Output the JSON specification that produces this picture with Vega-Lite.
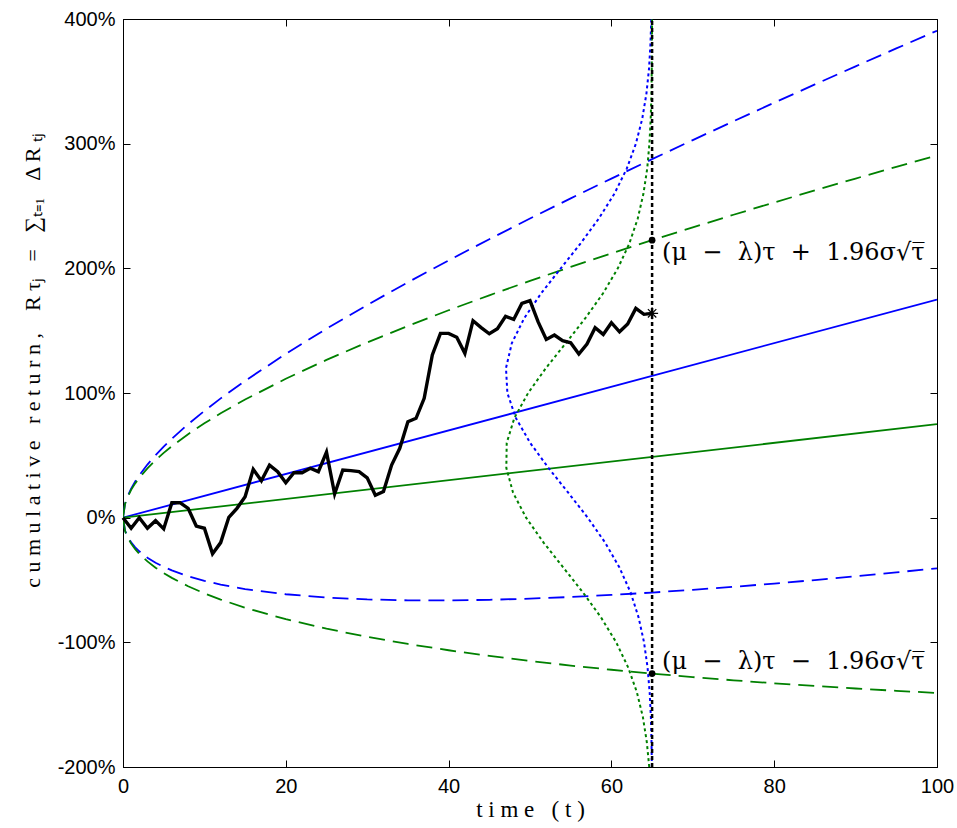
{
  "$schema": "https://vega.github.io/schema/vega-lite/v6.json",
  "width": 814,
  "height": 748,
  "autosize": "none",
  "padding": {"left": 123, "top": 19, "right": 20, "bottom": 61},
  "background": "white",
  "config": {
    "view": {"stroke": "black", "strokeWidth": 1},
    "axis": {
      "domainColor": "black", "tickColor": "black", "labelColor": "black", "titleColor": "black",
      "labelFont": "Liberation Sans", "labelFontSize": 20,
      "titleFont": "Liberation Serif", "titleFontSize": 22, "titleFontWeight": "normal",
      "grid": false, "labelFlush": false, "labelOverlap": false,
      "domainWidth": 1, "tickWidth": 1
    }
  },
  "datasets": {
    "walk": [
      {"t":0,"v":0},{"t":1,"v":-8.5},{"t":2,"v":0},{"t":3,"v":-8.5},{"t":4,"v":-2.4},{"t":5,"v":-9},
      {"t":6,"v":12},{"t":7,"v":12},{"t":8,"v":7.5},{"t":9,"v":-6.7},{"t":10,"v":-8.5},{"t":11,"v":-29},
      {"t":12,"v":-20},{"t":13,"v":0.3},{"t":14,"v":7.5},{"t":15,"v":16.8},{"t":16,"v":38.8},{"t":17,"v":29.6},
      {"t":18,"v":42.2},{"t":19,"v":36.9},{"t":20,"v":28},{"t":21,"v":36},{"t":22,"v":36},{"t":23,"v":39.6},
      {"t":24,"v":36.9},{"t":25,"v":52.6},{"t":26,"v":19},{"t":27,"v":38.2},{"t":28,"v":37.7},{"t":29,"v":36.9},
      {"t":30,"v":32},{"t":31,"v":18},{"t":32,"v":21},{"t":33,"v":42.2},{"t":34,"v":55.6},{"t":35,"v":77},
      {"t":36,"v":79.7},{"t":37,"v":95.7},{"t":38,"v":130.5},{"t":39,"v":147.8},{"t":40,"v":147.8},{"t":41,"v":144.7},
      {"t":42,"v":131.8},{"t":43,"v":158},{"t":44,"v":152.5},{"t":45,"v":147.5},{"t":46,"v":151.5},{"t":47,"v":161.5},
      {"t":48,"v":159},{"t":49,"v":171.8},{"t":50,"v":174},{"t":51,"v":157},{"t":52,"v":143},{"t":53,"v":146.5},
      {"t":54,"v":142},{"t":55,"v":140.3},{"t":56,"v":131.3},{"t":57,"v":139.3},{"t":58,"v":152.4},{"t":59,"v":147},
      {"t":60,"v":156.4},{"t":61,"v":149.1},{"t":62,"v":155.3},{"t":63,"v":167.9},{"t":64,"v":163.1},{"t":65,"v":163.9}
    ],
    "trend": [
      {"t":0,"v":0,"grp":"A"},{"t":100,"v":175,"grp":"A"},
      {"t":0,"v":0,"grp":"B"},{"t":100,"v":75,"grp":"B"}
    ],
    "bounds": [
      {"t":0,"v":0,"grp":"A","side":"up"},{"t":0.25,"v":11.22,"grp":"A","side":"up"},{"t":0.5,"v":16.12,"grp":"A","side":"up"},{"t":1,"v":23.31,"grp":"A","side":"up"},{"t":1.5,"v":29.03,"grp":"A","side":"up"},{"t":2,"v":33.99,"grp":"A","side":"up"},{"t":3,"v":42.59,"grp":"A","side":"up"},{"t":4,"v":50.12,"grp":"A","side":"up"},{"t":5,"v":56.96,"grp":"A","side":"up"},{"t":6,"v":63.31,"grp":"A","side":"up"},{"t":8,"v":74.98,"grp":"A","side":"up"},{"t":10,"v":85.68,"grp":"A","side":"up"},{"t":12,"v":95.69,"grp":"A","side":"up"},{"t":15,"v":109.75,"grp":"A","side":"up"},{"t":20,"v":131.42,"grp":"A","side":"up"},{"t":25,"v":151.55,"grp":"A","side":"up"},{"t":30,"v":170.59,"grp":"A","side":"up"},{"t":35,"v":188.8,"grp":"A","side":"up"},{"t":40,"v":206.36,"grp":"A","side":"up"},{"t":45,"v":223.38,"grp":"A","side":"up"},{"t":50,"v":239.95,"grp":"A","side":"up"},{"t":55,"v":256.14,"grp":"A","side":"up"},{"t":60,"v":272.0,"grp":"A","side":"up"},{"t":65,"v":287.57,"grp":"A","side":"up"},{"t":70,"v":302.88,"grp":"A","side":"up"},{"t":75,"v":317.97,"grp":"A","side":"up"},{"t":80,"v":332.84,"grp":"A","side":"up"},{"t":85,"v":347.52,"grp":"A","side":"up"},{"t":90,"v":362.04,"grp":"A","side":"up"},{"t":95,"v":376.39,"grp":"A","side":"up"},{"t":100,"v":390.6,"grp":"A","side":"up"},
      {"t":0,"v":0,"grp":"A","side":"lo"},{"t":0.25,"v":-10.34,"grp":"A","side":"lo"},{"t":0.5,"v":-14.37,"grp":"A","side":"lo"},{"t":1,"v":-19.81,"grp":"A","side":"lo"},{"t":1.5,"v":-23.78,"grp":"A","side":"lo"},{"t":2,"v":-26.99,"grp":"A","side":"lo"},{"t":3,"v":-32.09,"grp":"A","side":"lo"},{"t":4,"v":-36.12,"grp":"A","side":"lo"},{"t":5,"v":-39.46,"grp":"A","side":"lo"},{"t":6,"v":-42.31,"grp":"A","side":"lo"},{"t":8,"v":-46.98,"grp":"A","side":"lo"},{"t":10,"v":-50.68,"grp":"A","side":"lo"},{"t":12,"v":-53.69,"grp":"A","side":"lo"},{"t":15,"v":-57.25,"grp":"A","side":"lo"},{"t":20,"v":-61.42,"grp":"A","side":"lo"},{"t":25,"v":-64.05,"grp":"A","side":"lo"},{"t":30,"v":-65.59,"grp":"A","side":"lo"},{"t":35,"v":-66.3,"grp":"A","side":"lo"},{"t":40,"v":-66.36,"grp":"A","side":"lo"},{"t":45,"v":-65.88,"grp":"A","side":"lo"},{"t":50,"v":-64.95,"grp":"A","side":"lo"},{"t":55,"v":-63.64,"grp":"A","side":"lo"},{"t":60,"v":-62.0,"grp":"A","side":"lo"},{"t":65,"v":-60.07,"grp":"A","side":"lo"},{"t":70,"v":-57.88,"grp":"A","side":"lo"},{"t":75,"v":-55.47,"grp":"A","side":"lo"},{"t":80,"v":-52.84,"grp":"A","side":"lo"},{"t":85,"v":-50.02,"grp":"A","side":"lo"},{"t":90,"v":-47.04,"grp":"A","side":"lo"},{"t":95,"v":-43.89,"grp":"A","side":"lo"},{"t":100,"v":-40.6,"grp":"A","side":"lo"},
      {"t":0,"v":0,"grp":"B","side":"up"},{"t":0.25,"v":10.97,"grp":"B","side":"up"},{"t":0.5,"v":15.62,"grp":"B","side":"up"},{"t":1,"v":22.31,"grp":"B","side":"up"},{"t":1.5,"v":27.53,"grp":"B","side":"up"},{"t":2,"v":31.99,"grp":"B","side":"up"},{"t":3,"v":39.59,"grp":"B","side":"up"},{"t":4,"v":46.12,"grp":"B","side":"up"},{"t":5,"v":51.96,"grp":"B","side":"up"},{"t":6,"v":57.31,"grp":"B","side":"up"},{"t":8,"v":66.98,"grp":"B","side":"up"},{"t":10,"v":75.68,"grp":"B","side":"up"},{"t":12,"v":83.69,"grp":"B","side":"up"},{"t":15,"v":94.75,"grp":"B","side":"up"},{"t":20,"v":111.42,"grp":"B","side":"up"},{"t":25,"v":126.55,"grp":"B","side":"up"},{"t":30,"v":140.59,"grp":"B","side":"up"},{"t":35,"v":153.8,"grp":"B","side":"up"},{"t":40,"v":166.36,"grp":"B","side":"up"},{"t":45,"v":178.38,"grp":"B","side":"up"},{"t":50,"v":189.95,"grp":"B","side":"up"},{"t":55,"v":201.14,"grp":"B","side":"up"},{"t":60,"v":212.0,"grp":"B","side":"up"},{"t":65,"v":222.57,"grp":"B","side":"up"},{"t":70,"v":232.88,"grp":"B","side":"up"},{"t":75,"v":242.97,"grp":"B","side":"up"},{"t":80,"v":252.84,"grp":"B","side":"up"},{"t":85,"v":262.52,"grp":"B","side":"up"},{"t":90,"v":272.04,"grp":"B","side":"up"},{"t":95,"v":281.39,"grp":"B","side":"up"},{"t":100,"v":290.6,"grp":"B","side":"up"},
      {"t":0,"v":0,"grp":"B","side":"lo"},{"t":0.25,"v":-10.59,"grp":"B","side":"lo"},{"t":0.5,"v":-14.87,"grp":"B","side":"lo"},{"t":1,"v":-20.81,"grp":"B","side":"lo"},{"t":1.5,"v":-25.28,"grp":"B","side":"lo"},{"t":2,"v":-28.99,"grp":"B","side":"lo"},{"t":3,"v":-35.09,"grp":"B","side":"lo"},{"t":4,"v":-40.12,"grp":"B","side":"lo"},{"t":5,"v":-44.46,"grp":"B","side":"lo"},{"t":6,"v":-48.31,"grp":"B","side":"lo"},{"t":8,"v":-54.98,"grp":"B","side":"lo"},{"t":10,"v":-60.68,"grp":"B","side":"lo"},{"t":12,"v":-65.69,"grp":"B","side":"lo"},{"t":15,"v":-72.25,"grp":"B","side":"lo"},{"t":20,"v":-81.42,"grp":"B","side":"lo"},{"t":25,"v":-89.05,"grp":"B","side":"lo"},{"t":30,"v":-95.59,"grp":"B","side":"lo"},{"t":35,"v":-101.3,"grp":"B","side":"lo"},{"t":40,"v":-106.36,"grp":"B","side":"lo"},{"t":45,"v":-110.88,"grp":"B","side":"lo"},{"t":50,"v":-114.95,"grp":"B","side":"lo"},{"t":55,"v":-118.64,"grp":"B","side":"lo"},{"t":60,"v":-122.0,"grp":"B","side":"lo"},{"t":65,"v":-125.07,"grp":"B","side":"lo"},{"t":70,"v":-127.88,"grp":"B","side":"lo"},{"t":75,"v":-130.47,"grp":"B","side":"lo"},{"t":80,"v":-132.84,"grp":"B","side":"lo"},{"t":85,"v":-135.02,"grp":"B","side":"lo"},{"t":90,"v":-137.04,"grp":"B","side":"lo"},{"t":95,"v":-138.89,"grp":"B","side":"lo"},{"t":100,"v":-140.6,"grp":"B","side":"lo"}
    ],
    "dens": [
      {"v":-200,"t":64.97,"grp":"A"},{"v":-180,"t":64.93,"grp":"A"},{"v":-160,"t":64.85,"grp":"A"},{"v":-140,"t":64.70,"grp":"A"},{"v":-120,"t":64.44,"grp":"A"},{"v":-100,"t":64.01,"grp":"A"},{"v":-80,"t":63.34,"grp":"A"},{"v":-60,"t":62.36,"grp":"A"},{"v":-40,"t":60.99,"grp":"A"},{"v":-20,"t":59.23,"grp":"A"},{"v":0,"t":57.09,"grp":"A"},{"v":20,"t":54.70,"grp":"A"},{"v":40,"t":52.26,"grp":"A"},{"v":60,"t":50.02,"grp":"A"},{"v":80,"t":48.26,"grp":"A"},{"v":100,"t":47.22,"grp":"A"},{"v":120,"t":47.05,"grp":"A"},{"v":140,"t":47.77,"grp":"A"},{"v":160,"t":49.29,"grp":"A"},{"v":180,"t":51.38,"grp":"A"},{"v":200,"t":53.78,"grp":"A"},{"v":220,"t":56.22,"grp":"A"},{"v":240,"t":58.46,"grp":"A"},{"v":260,"t":60.38,"grp":"A"},{"v":280,"t":61.89,"grp":"A"},{"v":300,"t":63.01,"grp":"A"},{"v":320,"t":63.79,"grp":"A"},{"v":340,"t":64.30,"grp":"A"},{"v":360,"t":64.62,"grp":"A"},{"v":380,"t":64.80,"grp":"A"},{"v":400,"t":64.90,"grp":"A"},
      {"v":-200,"t":64.65,"grp":"B"},{"v":-180,"t":64.35,"grp":"B"},{"v":-160,"t":63.87,"grp":"B"},{"v":-140,"t":63.13,"grp":"B"},{"v":-120,"t":62.05,"grp":"B"},{"v":-100,"t":60.59,"grp":"B"},{"v":-80,"t":58.72,"grp":"B"},{"v":-60,"t":56.51,"grp":"B"},{"v":-40,"t":54.09,"grp":"B"},{"v":-20,"t":51.67,"grp":"B"},{"v":0,"t":49.52,"grp":"B"},{"v":20,"t":47.92,"grp":"B"},{"v":40,"t":47.09,"grp":"B"},{"v":60,"t":47.14,"grp":"B"},{"v":80,"t":48.08,"grp":"B"},{"v":100,"t":49.77,"grp":"B"},{"v":120,"t":51.96,"grp":"B"},{"v":140,"t":54.40,"grp":"B"},{"v":160,"t":56.80,"grp":"B"},{"v":180,"t":58.98,"grp":"B"},{"v":200,"t":60.79,"grp":"B"},{"v":220,"t":62.21,"grp":"B"},{"v":240,"t":63.24,"grp":"B"},{"v":260,"t":63.94,"grp":"B"},{"v":280,"t":64.40,"grp":"B"},{"v":300,"t":64.67,"grp":"B"},{"v":320,"t":64.83,"grp":"B"},{"v":340,"t":64.92,"grp":"B"},{"v":360,"t":64.96,"grp":"B"},{"v":380,"t":64.98,"grp":"B"},{"v":400,"t":64.99,"grp":"B"}
    ]
  },
  "layer": [
    {
      "encoding": {
        "x": {"field": "t", "type": "quantitative", "scale": {"domain": [0, 100], "nice": false},
              "axis": {"values": [0, 20, 40, 60, 80, 100], "ticks": false, "labelPadding": 9,
                       "title": "t i m e \u00a0 ( t )", "titleFontSize": 23, "titleY": 49, "titleBaseline": "alphabetic"}},
        "y": {"field": "v", "type": "quantitative", "scale": {"domain": [-200, 400], "nice": false},
              "axis": {"values": [-200, -100, 0, 100, 200, 300, 400], "ticks": false, "labelPadding": 8,
                       "labelExpr": "datum.value + '%'",
                       "title": "c u m u l a t i v e \u00a0 r e t u r n , \u00a0\u00a0 R\u00a0τⱼ \u00a0\u00a0=\u00a0\u00a0 ∑ₜ₌₁ \u00a0\u00a0Δ R\u00a0ₜⱼ",
                       "titleFontSize": 22, "titleX": -84, "titleY": 341, "titleBaseline": "alphabetic"}}
      },
      "layer": [
        {
          "data": {"name": "bounds"},
          "mark": {"type": "line", "strokeWidth": 1.8, "strokeDash": [16, 8], "clip": true},
          "encoding": {
            "color": {"field": "grp", "type": "nominal", "scale": {"domain": ["A", "B"], "range": ["#0000ff", "#008000"]}, "legend": null},
            "detail": {"field": "side"}
          }
        },
        {
          "data": {"name": "trend"},
          "mark": {"type": "line", "strokeWidth": 1.8, "clip": true},
          "encoding": {
            "color": {"field": "grp", "type": "nominal", "legend": null}
          }
        },
        {
          "data": {"name": "dens"},
          "mark": {"type": "line", "strokeWidth": 2, "strokeDash": [3, 3], "clip": true},
          "encoding": {
            "color": {"field": "grp", "type": "nominal", "legend": null},
            "order": {"field": "v", "type": "quantitative"}
          }
        },
        {
          "data": {"name": "walk"},
          "mark": {"type": "line", "strokeWidth": 3.4, "color": "black", "strokeJoin": "miter"}
        },
        {
          "data": {"values": [{"t": 65, "v": -200, "v2": 400}]},
          "mark": {"type": "rule", "color": "black", "strokeWidth": 2.5, "strokeDash": [4, 3]},
          "encoding": {
            "y2": {"field": "v2"}
          }
        },
        {
          "data": {"values": [{"t": 65, "v": 163.9}]},
          "mark": {"type": "point", "shape": "M-1,0L1,0M0,-1L0,1M-0.7,-0.7L0.7,0.7M-0.7,0.7L0.7,-0.7", "size": 144, "stroke": "black", "strokeWidth": 1.2, "filled": false, "opacity": 1}
        },
        {
          "data": {"values": [{"t": 65, "v": 222.57}, {"t": 65, "v": -125.07}]},
          "mark": {"type": "circle", "size": 45, "color": "black", "opacity": 1}
        },
        {
          "data": {"values": [{"t": 65, "v": 222.57, "label": "(μ\u00a0\u00a0−\u00a0\u00a0λ)τ\u00a0\u00a0+\u00a0\u00a01.96σ√τ\u0305"}]},
          "mark": {"type": "text", "align": "left", "baseline": "middle", "dx": 10, "dy": 13, "font": "DejaVu Serif", "fontSize": 24, "color": "black"},
          "encoding": {"text": {"field": "label"}}
        },
        {
          "data": {"values": [{"t": 65, "v": -125.07, "label": "(μ\u00a0\u00a0−\u00a0\u00a0λ)τ\u00a0\u00a0−\u00a0\u00a01.96σ√τ\u0305"}]},
          "mark": {"type": "text", "align": "left", "baseline": "middle", "dx": 10, "dy": -12, "font": "DejaVu Serif", "fontSize": 24, "color": "black"},
          "encoding": {"text": {"field": "label"}}
        }
      ]
    },
    {
      "data": {"values": [{"t": 0, "v": 0}]},
      "mark": {"type": "point", "opacity": 0},
      "encoding": {
        "x": {"field": "t", "type": "quantitative", "scale": {"domain": [0, 100], "nice": false},
              "axis": {"orient": "top", "offset": -748, "values": [0, 20, 40, 60, 80, 100], "labels": false, "domain": false, "title": null, "tickSize": 7, "ticks": true}},
        "y": {"field": "v", "type": "quantitative", "scale": {"domain": [-200, 400], "nice": false},
              "axis": {"orient": "right", "offset": -814, "values": [-200, -100, 0, 100, 200, 300, 400], "labels": false, "domain": false, "title": null, "tickSize": 7, "ticks": true}}
      }
    },
    {
      "data": {"values": [{"t": 0, "v": 0}]},
      "mark": {"type": "point", "opacity": 0},
      "encoding": {
        "x": {"field": "t", "type": "quantitative", "scale": {"domain": [0, 100], "nice": false},
              "axis": {"orient": "bottom", "offset": -748, "values": [0, 20, 40, 60, 80, 100], "labels": false, "domain": false, "title": null, "tickSize": 7, "ticks": true}},
        "y": {"field": "v", "type": "quantitative", "scale": {"domain": [-200, 400], "nice": false},
              "axis": {"orient": "left", "offset": -814, "values": [-200, -100, 0, 100, 200, 300, 400], "labels": false, "domain": false, "title": null, "tickSize": 7, "ticks": true}}
      }
    }
  ],
  "resolve": {"scale": {"x": "independent", "y": "independent"}}
}
